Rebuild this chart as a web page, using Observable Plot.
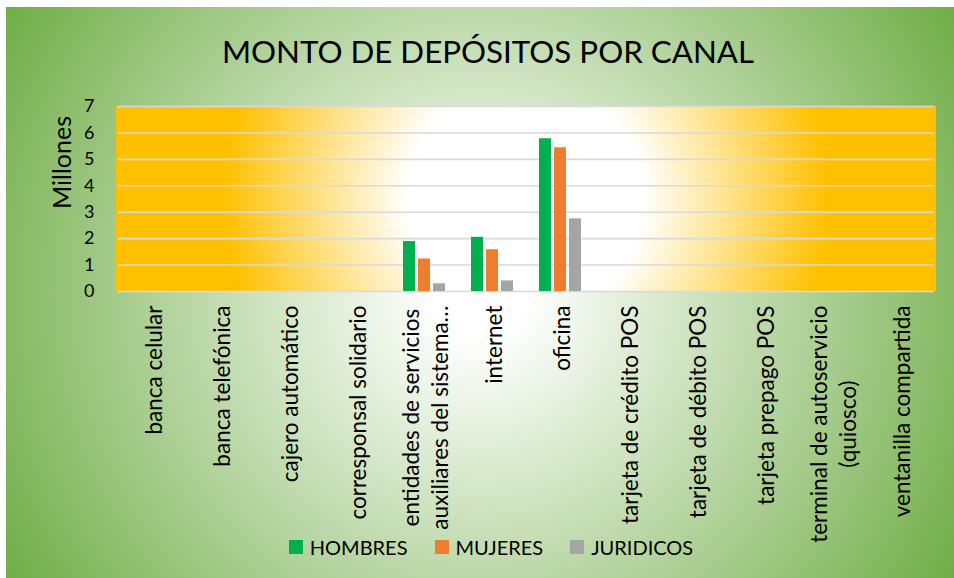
<!DOCTYPE html>
<html>
<head>
<meta charset="utf-8">
<script src="https://cdn.jsdelivr.net/npm/d3@7"></script>
<script src="https://cdn.jsdelivr.net/npm/@observablehq/plot@0.6"></script>
<style>
  body { margin: 0; }
  #page { position: relative; width: 954px; height: 578px; background: #fff; overflow: hidden; font-family: Lato, "Open Sans", sans-serif; }
  #bg { position: absolute; left: 6px; top: 7px; right: 0; bottom: 0;
        background: radial-gradient(circle at 50% 50%, #ffffff 8%, #70ad47 100%); }
  #plotbg { position: absolute; left: 116px; top: 106px; width: 820px; height: 185px;
        background: radial-gradient(circle at 50% 50%, #ffffff 28%, #ffc000 72%); }
  #title { position: absolute; left: 0; top: 35px; width: 976px; text-align: center;
        font-size: 31.3px; line-height: 32px; color: #000; }
  #chart { position: absolute; left: 0; top: 90px; }
  #legend { position: absolute; left: 14px; top: 536px; width: 954px; height: 22px;
        display: flex; justify-content: center; align-items: center; gap: 27px; font-size: 20px; color: #000; }
  .item { display: flex; align-items: center; gap: 7px; }
  .sw { width: 14px; height: 14px; display: inline-block; }
</style>
</head>
<body>
<div id="page">
  <div id="bg"></div>
  <div id="plotbg"></div>
  <div id="title">MONTO DE DEPÓSITOS POR CANAL</div>
  <div id="chart"></div>
  <div id="legend"></div>
</div>
<script>
const title = "MONTO DE DEPÓSITOS POR CANAL";
const yLabel = "Millones";
const canales = [
  "banca celular",
  "banca telefónica",
  "cajero automático",
  "corresponsal solidario",
  "entidades de servicios\nauxiliares del sistema…",
  "internet",
  "oficina",
  "tarjeta de crédito POS",
  "tarjeta de débito POS",
  "tarjeta prepago POS",
  "terminal de autoservicio\n(quiosco)",
  "ventanilla compartida"
];
const series = ["HOMBRES", "MUJERES", "JURIDICOS"];
const colores = ["#00b050", "#ed7d31", "#a5a5a5"];
const hombres  = [0, 0, 0, 0, 1.89, 2.05, 5.78, 0, 0, 0, 0, 0];
const mujeres  = [0, 0, 0, 0, 1.23, 1.58, 5.44, 0, 0, 0, 0, 0];
const juridicos = [0, 0, 0, 0, 0.29, 0.40, 2.75, 0, 0, 0, 0, 0];
const yTicks = [0, 1, 2, 3, 4, 5, 6, 7];

const valores = [hombres, mujeres, juridicos];
const rows = [];
canales.forEach((c, i) => series.forEach((s, j) => rows.push({canal: c, serie: s, valor: valores[j][i]})));

const FONT = "Lato";

const chart = Plot.plot({
  width: 954,
  height: 450,
  marginTop: 16,
  marginBottom: 249,
  marginLeft: 116,
  marginRight: 18,
  style: `background: transparent; font-family: ${FONT}; overflow: visible; color: #000;`,
  fx: {domain: canales, padding: 0, label: null},
  x: {domain: series, axis: null, paddingInner: 0.22, paddingOuter: 0.83},
  y: {domain: [0, 7], label: null},
  color: {domain: series, range: colores},
  marks: [
    Plot.gridY(yTicks, {stroke: "#d9d9d9", strokeOpacity: 1, strokeWidth: 1.6}),
    Plot.axisY(yTicks, {tickSize: 0, tickPadding: 24, fontSize: 18, label: null}),
    Plot.axisFx({anchor: "bottom", tickRotate: -90, tickSize: 0, tickPadding: 14, fontSize: 22.5, lineHeight: 1.25, label: null}),
    Plot.barY(rows, {fx: "canal", x: "serie", y: "valor", fill: "serie"}),
    Plot.text([yLabel], {fx: () => canales[0], text: d => d, frameAnchor: "top-left", textAnchor: "middle", lineAnchor: "middle", rotate: -90, dx: -56, dy: 56, fontSize: 25})
  ]
});
document.getElementById("chart").appendChild(chart);

// center the lines of multi-line rotated tick labels (like the original)
chart.querySelectorAll("text").forEach(t => {
  const tspans = t.querySelectorAll("tspan");
  if (tspans.length > 1) {
    let L = 0;
    tspans.forEach(s => { L = Math.max(L, s.getComputedTextLength()); });
    t.setAttribute("text-anchor", "middle");
    tspans.forEach(s => s.setAttribute("x", -L / 2));
  }
});

const legend = document.getElementById("legend");
series.forEach((s, i) => {
  const item = document.createElement("div");
  item.className = "item";
  const sw = document.createElement("span");
  sw.className = "sw";
  sw.style.background = colores[i];
  const tx = document.createElement("span");
  tx.textContent = s;
  item.appendChild(sw);
  item.appendChild(tx);
  legend.appendChild(item);
});
</script>
</body>
</html>
